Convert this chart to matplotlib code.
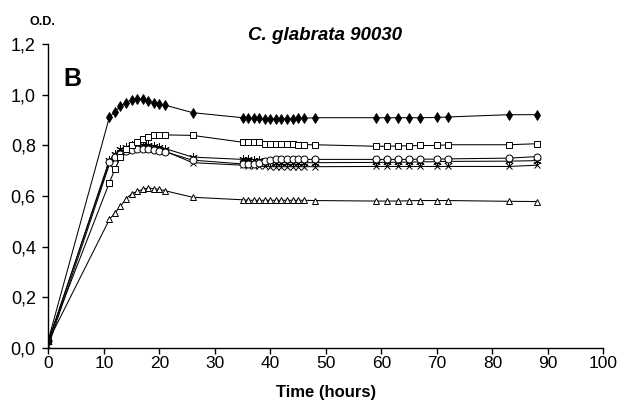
import matplotlib
matplotlib.use('Agg')
import matplotlib.pyplot as plt
from matplotlib.ticker import FuncFormatter

plt.rcParams['font.family'] = ['Liberation Sans', 'DejaVu Sans']

# sampling times (hours)
hours = [0, 11, 12, 13, 14, 15, 16, 17, 18, 19, 20, 21, 26,
         35, 36, 37, 38, 39, 40, 41, 42, 43, 44, 45, 46, 48,
         59, 61, 63, 65, 67, 70, 72, 83, 88]

od_diamond = [0.03, 0.912, 0.934, 0.955, 0.970, 0.980, 0.985, 0.983, 0.977, 0.970, 0.965, 0.960, 0.930,
              0.910, 0.910, 0.907, 0.907, 0.906, 0.906, 0.906, 0.906, 0.906, 0.906, 0.907, 0.908, 0.910,
              0.910, 0.910, 0.910, 0.910, 0.910, 0.911, 0.913, 0.922, 0.922]
od_square = [0.03, 0.653, 0.706, 0.755, 0.785, 0.800, 0.815, 0.826, 0.834, 0.840, 0.842, 0.842, 0.840,
             0.813, 0.813, 0.813, 0.812, 0.806, 0.806, 0.806, 0.806, 0.806, 0.806, 0.803, 0.803, 0.803,
             0.797, 0.797, 0.798, 0.799, 0.800, 0.800, 0.803, 0.803, 0.807]
od_circle = [0.025, 0.734, 0.755, 0.768, 0.778, 0.782, 0.785, 0.785, 0.785, 0.782, 0.778, 0.775, 0.742,
             0.727, 0.727, 0.728, 0.730, 0.740, 0.744, 0.745, 0.745, 0.745, 0.745, 0.745, 0.745, 0.745,
             0.745, 0.745, 0.745, 0.745, 0.746, 0.746, 0.747, 0.750, 0.756]
od_star = [0.02, 0.743, 0.765, 0.785, 0.795, 0.800, 0.802, 0.802, 0.800, 0.797, 0.793, 0.788, 0.754,
           0.745, 0.745, 0.744, 0.742, 0.735, 0.733, 0.732, 0.732, 0.732, 0.732, 0.732, 0.732, 0.732,
           0.733, 0.733, 0.734, 0.734, 0.735, 0.736, 0.737, 0.738, 0.740]
od_cross = [0.005, 0.725, 0.748, 0.770, 0.782, 0.790, 0.792, 0.792, 0.790, 0.787, 0.783, 0.778, 0.732,
            0.722, 0.720, 0.719, 0.718, 0.717, 0.716, 0.716, 0.716, 0.716, 0.716, 0.716, 0.716, 0.716,
            0.717, 0.717, 0.717, 0.717, 0.717, 0.717, 0.717, 0.717, 0.722]
od_triangle = [0.025, 0.507, 0.533, 0.559, 0.589, 0.609, 0.618, 0.626, 0.632, 0.629, 0.626, 0.621, 0.595,
               0.585, 0.583, 0.583, 0.583, 0.583, 0.583, 0.583, 0.583, 0.583, 0.583, 0.583, 0.583, 0.582,
               0.580, 0.580, 0.580, 0.581, 0.582, 0.582, 0.582, 0.579, 0.578]

fig = plt.figure(figsize=(6.17, 4.03), dpi=100)
ax = fig.add_axes([0.0783, 0.1377, 0.8997, 0.7519])

line_kw = dict(color='black', lw=0.75)
ax.plot(hours, od_triangle, marker='^', ms=5, mfc='white', mec='black', mew=0.7, **line_kw)
ax.plot(hours, od_cross, marker='x', ms=5, mec='black', mew=0.7, **line_kw)
ax.plot(hours, od_star, marker=(6, 2, 0), ms=6, mec='black', mew=0.7, **line_kw)
ax.plot(hours, od_circle, marker='o', ms=5, mfc='white', mec='black', mew=0.7, **line_kw)
ax.plot(hours, od_square, marker='s', ms=4.5, mfc='white', mec='black', mew=0.7, **line_kw)
ax.plot(hours, od_diamond, marker='d', ms=5, mfc='black', mec='black', mew=0.6, **line_kw)

ax.set_xlim(0, 100)
ax.set_ylim(0, 1.2)
ax.set_xticks(range(0, 101, 10))
ax.set_yticks([0, 0.2, 0.4, 0.6, 0.8, 1.0, 1.2])
ax.yaxis.set_major_formatter(FuncFormatter(lambda v, p: f'{v:.1f}'.replace('.', ',')))
ax.tick_params(direction='out', length=4, width=1)
ax.tick_params(axis='y', pad=5, labelsize=13)
ax.tick_params(axis='x', pad=2, labelsize=12.5)
for s in ['top', 'right']:
    ax.spines[s].set_visible(False)
ax.spines['left'].set_linewidth(1)
ax.spines['bottom'].set_linewidth(1)

ax.set_xlabel('Time (hours)', fontsize=12, fontweight='bold', labelpad=10)
fig.text(0.068, 0.945, 'O.D.', fontsize=9, fontweight='bold', ha='center', va='center')
fig.text(0.527, 0.913, 'C. glabrata 90030', fontsize=13.5, fontweight='bold', style='italic',
         ha='center', va='center')
fig.text(0.118, 0.805, 'B', fontsize=18, fontweight='bold', ha='center', va='center')

fig.savefig('out.png', dpi=100)
